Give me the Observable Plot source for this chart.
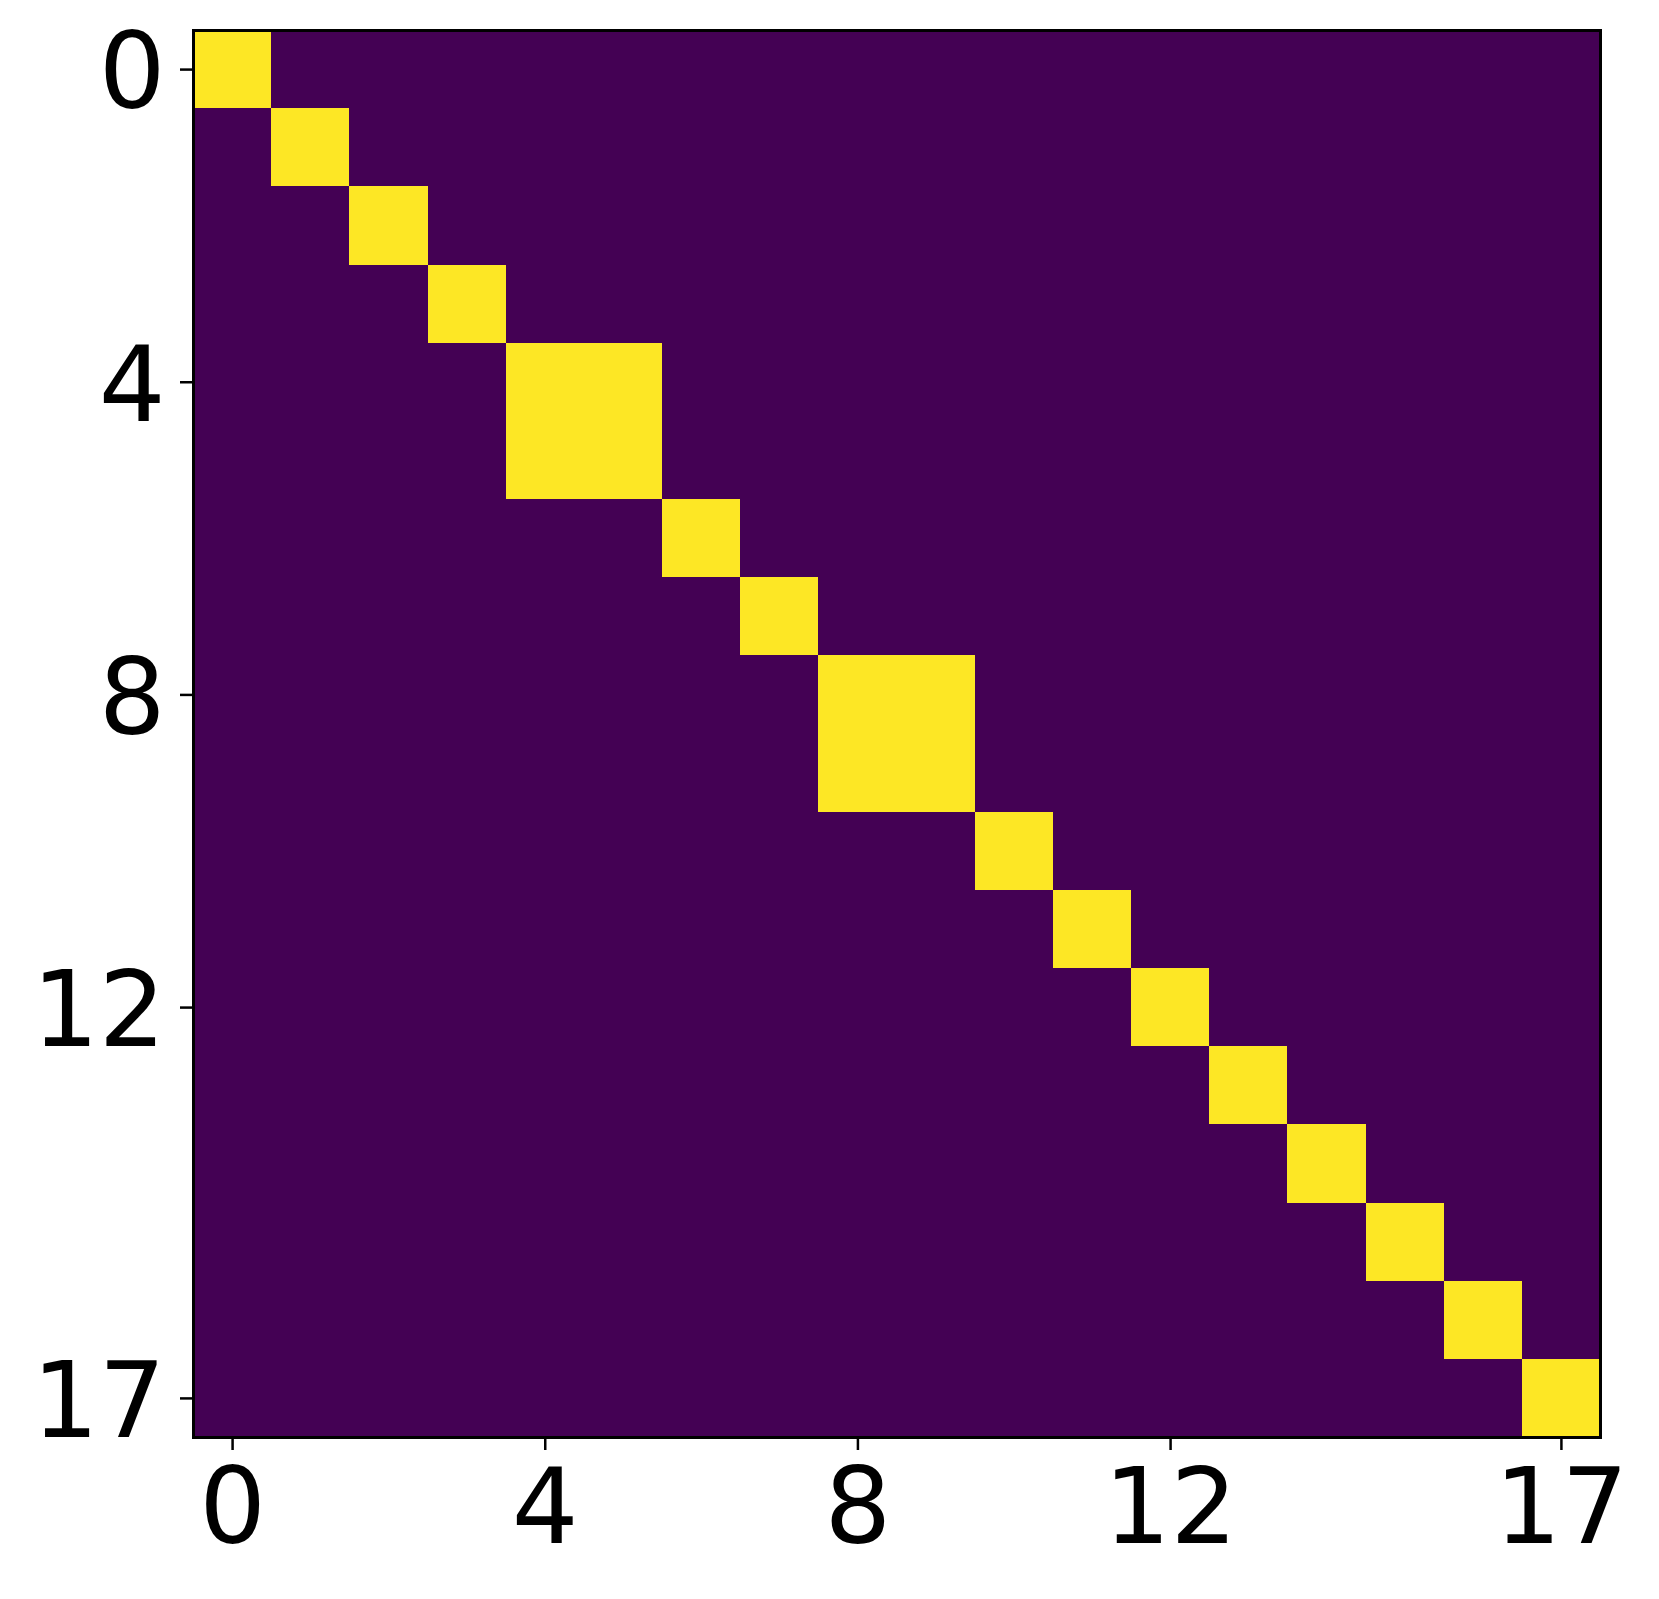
<!DOCTYPE html>
<html>
<head>
<meta charset="utf-8">
<script src="https://cdn.jsdelivr.net/npm/d3@7"></script>
<script src="https://cdn.jsdelivr.net/npm/@observablehq/plot@0.6"></script>
<style>
  html, body { margin: 0; padding: 0; background: #fff; }
  svg { display: block; }
</style>
</head>
<body>
<div id="chart"></div>
<script>
// Matrix size and diagonal blocks [start, end] (inclusive indices)
const n = 18;
const blocks = [[0,0],[1,1],[2,2],[3,3],[4,5],[6,6],[7,7],[8,9],[10,10],[11,11],[12,12],[13,13],[14,14],[15,15],[16,16],[17,17]];
const tickValues = [0, 4, 8, 12, 17];

const cells = [];
for (let i = 0; i < n; i++) {
  for (let j = 0; j < n; j++) {
    const same = blocks.some(([a, b]) => i >= a && i <= b && j >= a && j <= b);
    cells.push({row: i, col: j, value: same ? 1 : 0});
  }
}

const chart = Plot.plot({
  width: 1659,
  height: 1599,
  marginLeft: 193,
  marginTop: 30,
  marginRight: 59,
  marginBottom: 162,
  style: {fontFamily: "DejaVu Sans", fontSize: "105px", color: "black", background: "white"},
  x: {domain: [-0.5, n - 0.5], ticks: tickValues, label: null},
  y: {domain: [-0.5, n - 0.5], reverse: true, ticks: tickValues, label: null},
  color: {type: "linear", domain: [0, 1], scheme: "viridis"},
  marks: [
    Plot.rect(cells, {
      x1: d => d.col - 0.5, x2: d => d.col + 0.5,
      y1: d => d.row - 0.5, y2: d => d.row + 0.5,
      fill: "value", inset: 0, shapeRendering: "crispEdges"
    }),
    Plot.axisX({ticks: tickValues, tickSize: 13, tickPadding: 18, strokeWidth: 2.5, tickFormat: d => String(d)}),
    Plot.axisY({ticks: tickValues, tickSize: 13, strokeWidth: 2.5, text: null}),
    Plot.axisY({ticks: tickValues, tickSize: 0, tickPadding: 28, dy: 5, tickFormat: d => String(d)}),
    Plot.frame({stroke: "black", strokeWidth: 3})
  ]
});
document.getElementById("chart").appendChild(chart);
</script>
</body>
</html>
